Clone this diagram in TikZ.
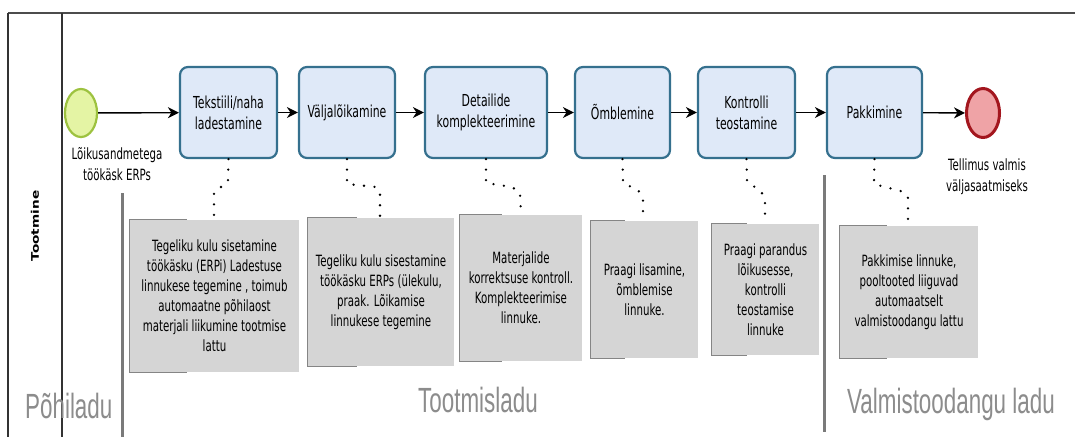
\documentclass[tikz,border=0pt]{standalone}
\usepackage{fontspec}
\setmainfont{DejaVu Sans}
\newfontfamily\taskfont[FakeStretch=0.66]{DejaVu Sans}
\newfontfamily\lanefont[FakeStretch=0.64]{Liberation Sans}
\newfontfamily\headfont[FakeStretch=1.3]{DejaVu Sans Bold}
\usetikzlibrary{arrows.meta,shapes.geometric}

\definecolor{taskfill}{HTML}{DFE9F8}
\definecolor{taskline}{HTML}{35708E}
\definecolor{startfill}{HTML}{E4F4A4}
\definecolor{startline}{HTML}{9DC23F}
\definecolor{endfill}{HTML}{EFA3A6}
\definecolor{endline}{HTML}{A3161E}
\definecolor{notefill}{HTML}{D5D5D5}
\definecolor{noteedge}{HTML}{858585}
\definecolor{lanetext}{HTML}{8C8C8C}
\definecolor{divider}{HTML}{7A7A7A}

\tikzset{
  task/.style={draw=taskline, fill=taskfill, line width=2.2pt, rounded corners=8pt,
    align=center, inner sep=0pt, font=\taskfont\fontsize{16.5}{21}\selectfont},
  note/.style={fill=notefill, align=center, inner sep=0pt,
    font=\taskfont\fontsize{15.5}{20}\selectfont},
  bracket/.style={draw=noteedge, line width=1.2pt},
  flow/.style={line width=1.4pt, -{Stealth[length=11pt,width=11pt,inset=3.5pt]}},
  assoc/.style={line width=2.6pt, line cap=round, dash pattern=on 0pt off 10.5pt},
  evlabel/.style={align=center, font=\taskfont\fontsize{15.5}{21}\selectfont},
  lanelabel/.style={anchor=base west, text=lanetext, inner sep=0pt,
    font=\lanefont\fontsize{35}{40}\selectfont},
  lanediv/.style={draw=divider, line width=3pt}
}

% left bracket of a text annotation
\newcommand\notebracket[2]{%
  \draw[bracket] ([xshift=#2pt]#1.north west) -- (#1.north west)
    -- (#1.south west) -- ([xshift=#2pt]#1.south west);}

\begin{document}
\begin{tikzpicture}[x=1pt, y=-1pt]
\useasboundingbox (0,0) rectangle (1075,437);
\fill[white] (0,0) rectangle (1075,437);

% pool frame and lane header
\draw[line width=2.5pt, draw=black!70] (8,13) -- (1075,13);
\draw[line width=1.3pt, draw=black!80] (8,13) -- (8,437);
\draw[line width=1.1pt, draw=black!80] (62,13) -- (62,437);
\node[rotate=90, font=\headfont\fontsize{10.5}{12}\selectfont] (lane) at (35,226) {Tootmine};

% storage area dividers
\draw[lanediv] (122,193) -- (122,437);
\draw[lanediv] (824,175) -- (824,432);

% storage area names
\node[lanelabel] (l1) at (25,418) {Põhiladu};
\node[lanelabel] (l2) at (418,412) {Tootmisladu};
\node[lanelabel] (l3) at (847,413) {Valmistoodangu ladu};

% events
\node[ellipse, draw=startline, fill=startfill, line width=2.2pt,
  minimum width=32pt, minimum height=48pt, inner sep=0pt] (start) at (81,113) {};
\node[ellipse, draw=endline, fill=endfill, line width=3pt,
  minimum width=33pt, minimum height=49pt, inner sep=0pt] (end) at (983,113) {};
\node[evlabel] (startlbl) at (117,164) {Lõikusandmetega\\töökäsk ERPs};
\node[evlabel] (endlbl) at (987,177) {Tellimus valmis\\väljasaatmiseks};

% tasks
\node[task, minimum width=97pt, minimum height=91pt] (t1) at (228.5,112.5) {Tekstiili/naha\\ladestamine};
\node[task, minimum width=96pt, minimum height=91pt] (t2) at (347,112.5) {Väljalõikamine};
\node[task, minimum width=122pt, minimum height=91pt] (t3) at (486,112.5) {Detailide\\komplekteerimine};
\node[task, minimum width=95pt, minimum height=91pt] (t4) at (622.5,112.5) {Õmblemine};
\node[task, minimum width=97pt, minimum height=91pt] (t5) at (746.5,112.5) {Kontrolli\\teostamine};
\node[task, minimum width=95pt, minimum height=91pt] (t6) at (874.5,112.5) {Pakkimine};

% sequence flows
\draw[flow] (start) -- (t1);
\draw[flow] (t1) -- (t2);
\draw[flow] (t2) -- (t3);
\draw[flow] (t3) -- (t4);
\draw[flow] (t4) -- (t5);
\draw[flow] (t5) -- (t6);
\draw[flow] (t6) -- (end);

% text annotations
\node[note, minimum width=169pt, minimum height=152pt] (a1) at (214.5,296)
  {Tegeliku kulu sisetamine\\töökäsku (ERPi) Ladestuse\\linnukese tegemine , toimub\\automaatne põhilaost\\materjali liikumine tootmise\\lattu};
\node[note, minimum width=146pt, minimum height=148pt] (a2) at (381,292)
  {Tegeliku kulu sisestamine\\töökäsku ERPs (ülekulu,\\praak. Lõikamise\\linnukese tegemine};
\node[note, minimum width=122pt, minimum height=146pt] (a3) at (521,288)
  {Materjalide\\korrektsuse kontroll.\\Komplekteerimise\\linnuke.};
\node[note, minimum width=107pt, minimum height=137pt] (a4) at (644.5,289.5)
  {Praagi lisamine,\\õmblemise\\linnuke.};
\node[note, minimum width=107pt, minimum height=131pt] (a5) at (765.5,289.5)
  {Praagi parandus\\lõikusesse,\\kontrolli\\teostamise\\linnuke};
\node[note, minimum width=138pt, minimum height=132pt] (a6) at (909,292)
  {Pakkimise linnuke,\\pooltooted liiguvad\\automaatselt\\valmistoodangu lattu};
\notebracket{a1}{57}
\notebracket{a2}{49}
\notebracket{a3}{42}
\notebracket{a4}{34}
\notebracket{a5}{35}
\notebracket{a6}{47}

% associations
\draw[assoc] (t1.south) -- (228,182) -- (214,192) -- (214,0 |- a1.north);
\draw[assoc] (t2.south) -- (347,184) -- (376,187) -- (380,193) -- (380,0 |- a2.north);
\draw[assoc] (t3.south) -- (486,183) -- (512,187) -- (520,193) -- (521,0 |- a3.north);
\draw[assoc] (t4.south) -- (623,183) -- (638,190) -- (643,198) -- (643,0 |- a4.north);
\draw[assoc] (t5.south) -- (747,182) -- (761,191) -- (765,200) -- (765,0 |- a5.north);
\draw[assoc] (t6.south) -- (874,184) -- (904,192) -- (908,198) -- (908,0 |- a6.north);
\end{tikzpicture}
\end{document}
